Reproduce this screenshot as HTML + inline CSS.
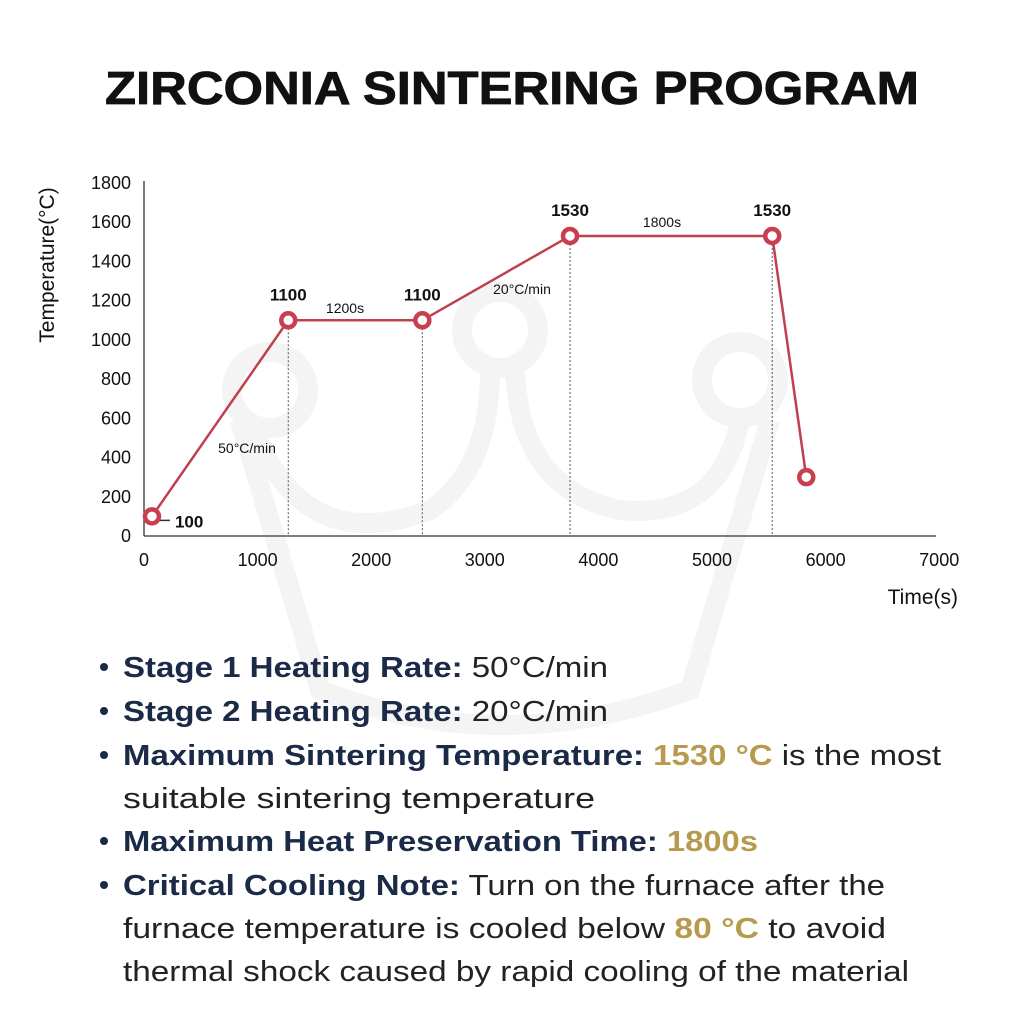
<!DOCTYPE html>
<html><head><meta charset="utf-8"><style>
html,body{margin:0;padding:0;background:#fff;}
svg{display:block;font-family:"Liberation Sans",sans-serif;}
</style></head><body>
<svg width="1024" height="1024" viewBox="0 0 1024 1024">
<rect width="1024" height="1024" fill="#fff"/>
<g fill="none" stroke="#f4f4f4" stroke-width="20">
<circle cx="270" cy="390" r="38"/><circle cx="500" cy="330" r="38"/><circle cx="740" cy="380" r="38"/>
<path d="M250 420 Q300 560 430 510 Q490 470 490 370"/><path d="M515 370 Q520 490 620 510 Q720 520 740 420"/>
<path d="M240 420 L320 690 Q500 760 690 690 L770 420"/>
</g>
<text x="512" y="104" text-anchor="middle" font-size="46" font-weight="bold" fill="#111" stroke="#111" stroke-width="0.8" textLength="814" lengthAdjust="spacingAndGlyphs">ZIRCONIA SINTERING PROGRAM</text>
<g id="chart"></g>
<g font-size="29" fill="#222">
<g><circle cx="104" cy="667" r="4" fill="#1b2a47"/><text x="123" y="677" textLength="485" lengthAdjust="spacingAndGlyphs"><tspan font-weight="bold" fill="#1b2a47">Stage 1 Heating Rate:</tspan> 50°C/min</text></g>
<g><circle cx="104" cy="711" r="4" fill="#1b2a47"/><text x="123" y="721" textLength="485" lengthAdjust="spacingAndGlyphs"><tspan font-weight="bold" fill="#1b2a47">Stage 2 Heating Rate:</tspan> 20°C/min</text></g>
<g><circle cx="104" cy="755" r="4" fill="#1b2a47"/><text x="123" y="765" textLength="818" lengthAdjust="spacingAndGlyphs"><tspan font-weight="bold" fill="#1b2a47">Maximum Sintering Temperature:</tspan> <tspan font-weight="bold" fill="#b89a4e">1530 °C</tspan> is the most</text>
<text x="123" y="808" textLength="472" lengthAdjust="spacingAndGlyphs">suitable sintering temperature</text></g>
<g><circle cx="104" cy="841" r="4" fill="#1b2a47"/><text x="123" y="851" textLength="635" lengthAdjust="spacingAndGlyphs"><tspan font-weight="bold" fill="#1b2a47">Maximum Heat Preservation Time:</tspan> <tspan font-weight="bold" fill="#b89a4e">1800s</tspan></text></g>
<g><circle cx="104" cy="885" r="4" fill="#1b2a47"/><text x="123" y="895" textLength="762" lengthAdjust="spacingAndGlyphs"><tspan font-weight="bold" fill="#1b2a47">Critical Cooling Note:</tspan> Turn on the furnace after the</text>
<text x="123" y="938" textLength="763" lengthAdjust="spacingAndGlyphs">furnace temperature is cooled below <tspan font-weight="bold" fill="#b89a4e">80 °C</tspan> to avoid</text>
<text x="123" y="981" textLength="786" lengthAdjust="spacingAndGlyphs">thermal shock caused by rapid cooling of  the material</text></g>
</g>
</svg>
<script>
const times=[70,1270,2450,3750,5530,5830];
const temps=[100,1100,1100,1530,1530,300];
const pointLabels=["100","1100","1100","1530","1530",""];
const xTicks=[0,1000,2000,3000,4000,5000,6000,7000];
const yTicks=[0,200,400,600,800,1000,1200,1400,1600,1800];
const X0=144,XS=113.6/1000,Y0=536,YS=353/1800;
function sx(t){return X0+t*XS;}
function sy(v){return Y0-v*YS;}
const NS="http://www.w3.org/2000/svg";
const g=document.getElementById('chart');
function mk(tag,attrs,txt){const e=document.createElementNS(NS,tag);for(const k in attrs)e.setAttribute(k,attrs[k]);if(txt!==undefined)e.textContent=txt;g.appendChild(e);return e;}
let e;
e=mk('line',{x1:X0,y1:181,x2:X0,y2:Y0,stroke:'#333','stroke-width':1.3});


e=mk('line',{x1:X0,y1:Y0,x2:936,y2:Y0,stroke:'#333','stroke-width':1.3});


xTicks.forEach(t=>{e=mk('text',{x:sx(t),y:566,'text-anchor':'middle','font-size':18,fill:'#111'},String(t));

});
yTicks.forEach(v=>{e=mk('text',{x:131,y:sy(v)+6,'text-anchor':'end','font-size':18,fill:'#111'},String(v));

});
e=mk('text',{x:958,y:604,'text-anchor':'end','font-size':21,fill:'#111'},'Time(s)');


e=mk('text',{x:0,y:0,'text-anchor':'middle','font-size':21,fill:'#111',transform:'translate(54,265) rotate(-90)'},'Temperature(°C)');


for(let i=1;i<5;i++){e=mk('line',{x1:sx(times[i]),y1:sy(temps[i])+8,x2:sx(times[i]),y2:Y0,stroke:'#555','stroke-width':1,'stroke-dasharray':'2,2'});

}
e=mk('polyline',{points:times.map((t,i)=>sx(t)+','+sy(temps[i])).join(' '),fill:'none',stroke:'#c0404f','stroke-width':2.5});


times.forEach((t,i)=>{e=mk('circle',{cx:sx(t),cy:sy(temps[i]),r:7,fill:'#fff',stroke:'#c8404f','stroke-width':4.5});


if(pointLabels[i]){let lx=sx(t),ly=sy(temps[i])-20,anc='middle';if(i===0){lx=sx(t)+23;ly=sy(temps[i])+11;anc='start';}
e=mk('text',{x:lx,y:ly,'text-anchor':anc,'font-size':17,'font-weight':'bold',fill:'#111'},pointLabels[i]);

}});
e=mk('line',{x1:sx(times[0])+8,y1:sy(temps[0])+4,x2:sx(times[0])+18,y2:sy(temps[0])+4,stroke:'#333','stroke-width':1.5});


const ann=[["50°C/min",247,453],["1200s",345,313],["20°C/min",522,294],["1800s",662,227]];
ann.forEach(a=>{e=mk('text',{x:a[1],y:a[2],'text-anchor':'middle','font-size':14,fill:'#111'},a[0]);

});
</script>
</body></html>
